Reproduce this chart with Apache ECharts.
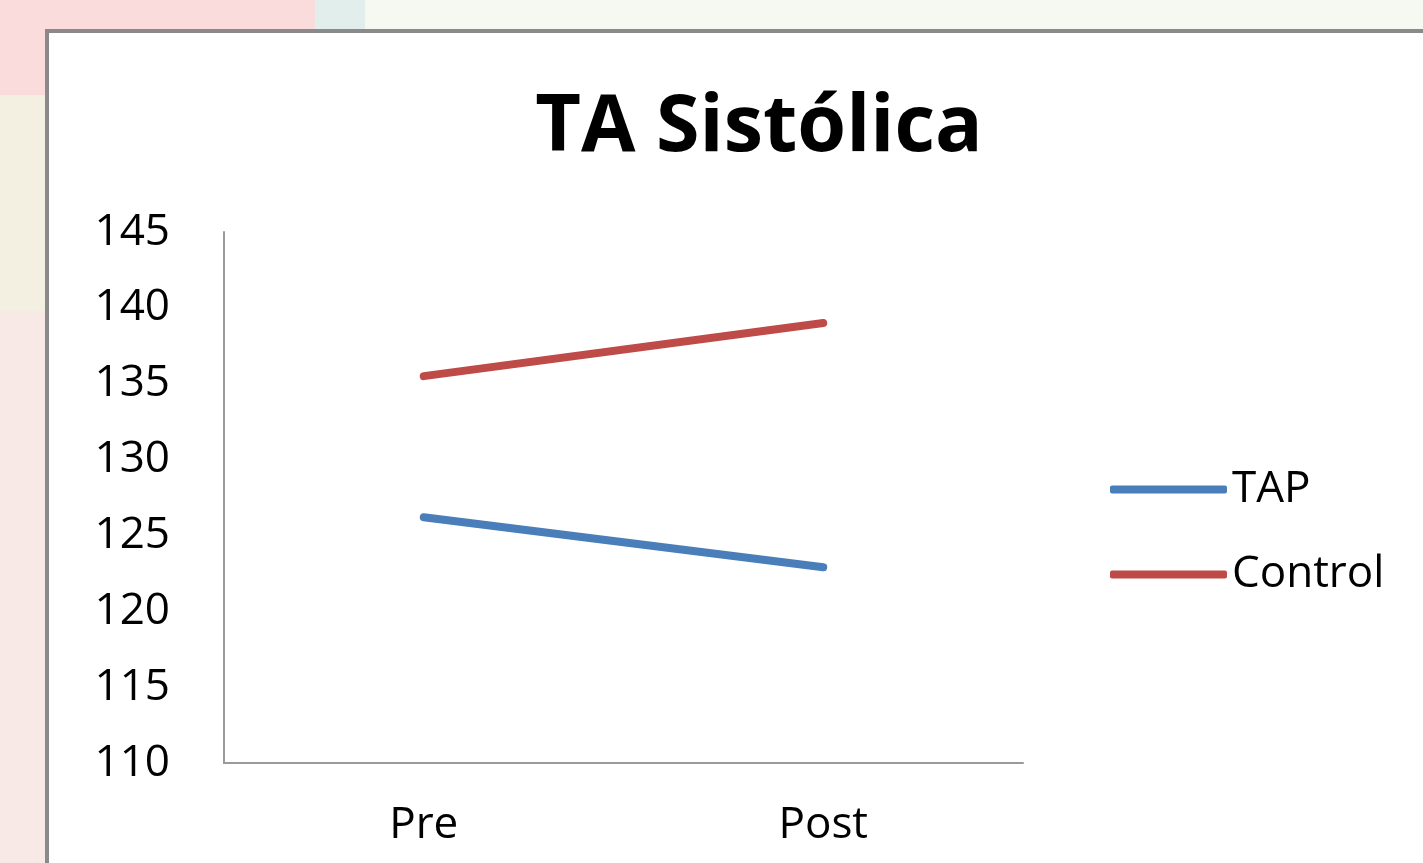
<!DOCTYPE html>
<html>
<head>
<meta charset="utf-8">
<script src="https://cdn.jsdelivr.net/npm/echarts@6/dist/echarts.min.js"></script>
<style>
  html, body { margin: 0; padding: 0; width: 1423px; height: 863px; overflow: hidden; background: #f6f8f2; position: relative; }
  .bg { position: absolute; }
  #frame { position: absolute; left: 45px; top: 29px; width: 1400px; height: 860px; background: #ffffff; border: 4px solid #8a8a8a; box-sizing: border-box; }
  #chart { position: absolute; left: 0; top: 0; width: 1423px; height: 863px; }
</style>
</head>
<body>
<div class="bg" style="left:0;top:0;width:315px;height:95px;background:#fadcdc;"></div>
<div class="bg" style="left:315px;top:0;width:50px;height:30px;background:#e2eeec;"></div>
<div class="bg" style="left:0;top:95px;width:45px;height:216px;background:#f3f0e2;"></div>
<div class="bg" style="left:0;top:311px;width:45px;height:552px;background:#f8e8e6;"></div>
<div id="frame"></div>
<div id="chart"></div>
<script>
// Systolic blood pressure, before and after
const categories = ['Pre', 'Post'];
const tapValues = [126.2, 122.9];
const controlValues = [135.5, 139.0];
const yTicks = { min: 110, max: 145, interval: 5 };

const FONT = 'Open Sans';

const chart = echarts.init(document.getElementById('chart'), null, { renderer: 'canvas' });
chart.setOption({
  backgroundColor: 'transparent',
  animation: false,
  title: {
    text: 'TA Sistólica',
    left: 754,
    textAlign: 'center',
    top: 84,
    textStyle: { fontFamily: FONT, fontWeight: 'bold', fontSize: 79, color: '#000000' }
  },
  legend: {
    orient: 'vertical',
    left: 1105,
    top: 462,
    itemWidth: 117,
    itemHeight: 8,
    itemGap: 40,
    itemTextGap: 11,
    icon: 'roundRect',
    textStyle: { fontFamily: FONT, fontSize: 44, color: '#000000', lineHeight: 45 },
    data: ['TAP', 'Control']
  },
  grid: { left: 224, right: 400, top: 232, bottom: 100, containLabel: false },
  xAxis: {
    type: 'category',
    data: categories,
    boundaryGap: true,
    axisLine: { lineStyle: { color: '#9a9a9a', width: 2 } },
    axisTick: { show: false },
    axisLabel: { fontFamily: FONT, fontSize: 44, color: '#000000', margin: 40 }
  },
  yAxis: {
    type: 'value',
    min: yTicks.min,
    max: yTicks.max,
    interval: yTicks.interval,
    axisLine: { show: true, lineStyle: { color: '#9a9a9a', width: 2 } },
    axisTick: { show: false },
    splitLine: { show: false },
    axisLabel: { fontFamily: FONT, fontSize: 44, color: '#000000', margin: 54 }
  },
  series: [
    {
      name: 'TAP',
      type: 'line',
      data: tapValues,
      symbol: 'none',
      color: '#4a7ebb',
      lineStyle: { width: 8, color: '#4a7ebb', cap: 'round' }
    },
    {
      name: 'Control',
      type: 'line',
      data: controlValues,
      symbol: 'none',
      color: '#be4b48',
      lineStyle: { width: 8, color: '#be4b48', cap: 'round' }
    }
  ]
});
</script>
</body>
</html>
